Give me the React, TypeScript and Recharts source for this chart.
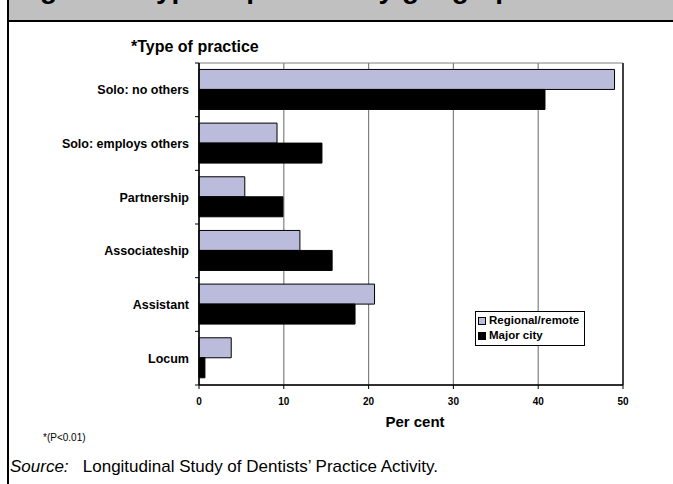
import React from 'react';
import { BarChart, Bar, XAxis, YAxis, CartesianGrid, ReferenceLine, ReferenceArea, Label } from 'recharts';

const categories = ['Solo: no others', 'Solo: employs others', 'Partnership', 'Associateship', 'Assistant', 'Locum'];
const regionalRemote = [49.0, 9.2, 5.4, 11.9, 20.7, 3.8];
const majorCity = [40.8, 14.5, 9.9, 15.7, 18.4, 0.7];
const xTicks = [0, 10, 20, 30, 40, 50];

const data = categories.map((name, i) => ({
  name,
  regional: regionalRemote[i],
  city: majorCity[i],
}));

const FONT = '"Liberation Sans", Arial, sans-serif';
const LAVENDER = '#BBBBDC';

const legendItems = [
  { label: 'Regional/remote', color: LAVENDER },
  { label: 'Major city', color: '#000' },
];

const CategoryTick = (props: any) => {
  const { x, y, payload, index, visibleTicksCount } = props;
  const half = payload && payload.offset ? payload.offset : 26.8;
  const axisX = x + 10;
  const isLast = index === visibleTicksCount - 1;
  return (
    <g>
      <line x1={axisX - 4} x2={axisX} y1={y - half} y2={y - half} stroke="#000" />
      {isLast && <line x1={axisX - 4} x2={axisX} y1={y + half} y2={y + half} stroke="#000" />}
      <text x={x} y={y} dy="0.35em" textAnchor="end" fontFamily={FONT} fontSize={12.5} fontWeight="bold" fill="#000">
        {payload.value}
      </text>
    </g>
  );
};

const LegendBox = () => (
  <div
    style={{
      position: 'absolute',
      left: 475,
      top: 311,
      border: '1px solid #000',
      background: '#fff',
      width: 106,
      height: 32,
      fontFamily: FONT,
      fontWeight: 'bold',
      fontSize: 11.5,
      lineHeight: '15px',
      padding: '1px 0 0 2px',
    }}
  >
    {legendItems.map((item) => (
      <div key={item.label} style={{ display: 'flex', alignItems: 'center', height: 15 }}>
        <span style={{ display: 'inline-block', width: 6, height: 6, background: item.color, border: '1px solid #000', marginRight: 3 }} />
        <span>{item.label}</span>
      </div>
    ))}
  </div>
);

export default function App() {
  return (
    <div style={{ position: 'absolute', left: 0, top: 0, width: 673, height: 484, background: '#fff', overflow: 'hidden' }}>
      {/* header band, title mostly hidden above the top edge */}
      <div style={{ position: 'absolute', left: 9, top: 0, width: 664, height: 20, background: '#C0C0C0', overflow: 'hidden' }}>
        <div style={{ position: 'absolute', left: 6, top: -27, whiteSpace: 'nowrap', fontFamily: FONT, fontWeight: 'bold', fontSize: 28 }}>
          Figure 5: Type of practice by geographic location
        </div>
      </div>
      <div style={{ position: 'absolute', left: 8, top: 20, width: 665, height: 2, background: '#000' }} />
      <div style={{ position: 'absolute', left: 7, top: 0, width: 2, height: 484, background: '#000' }} />

      <div style={{ position: 'absolute', left: 0, top: 0 }}>
        <BarChart
          width={673}
          height={484}
          data={data}
          layout="vertical"
          margin={{ top: 63, right: 50, bottom: 69, left: 9 }}
          barCategoryGap="12%"
          barGap={0}
        >
          <ReferenceArea x1={0} x2={50} fill="none" stroke="#808080" ifOverflow="visible" />
          <CartesianGrid horizontal={false} stroke="#808080" strokeWidth={1.2} />
          <XAxis
            type="number"
            domain={[0, 50]}
            ticks={xTicks}
            height={30}
            axisLine={{ stroke: '#000', strokeWidth: 1.5 }}
            tickLine={{ stroke: '#000' }}
            tickSize={4}
            tickMargin={9}
            tick={{ fontFamily: FONT, fontSize: 10, fontWeight: 'bold', fill: '#000' }}
          >
            <Label value="Per cent" position="bottom" offset={1} dx={4} style={{ fontFamily: FONT, fontSize: 15, fontWeight: 'bold', fill: '#000' }} />
          </XAxis>
          <YAxis
            type="category"
            dataKey="name"
            width={190}
            axisLine={{ stroke: '#000', strokeWidth: 1.5 }}
            tickLine={false}
            tickSize={0}
            tickMargin={10}
            tick={<CategoryTick />}
            interval={0}
          />
          <ReferenceLine x={50} stroke="#404040" strokeWidth={2} />
          <Bar dataKey="regional" name="Regional/remote" fill={LAVENDER} stroke="#000" strokeWidth={1} isAnimationActive={false} />
          <Bar dataKey="city" name="Major city" fill="#000" stroke="#000" strokeWidth={1} isAnimationActive={false} />
        </BarChart>
      </div>

      <LegendBox />
      <div style={{ position: 'absolute', left: 131, top: 38, fontFamily: FONT, fontWeight: 'bold', fontSize: 16, whiteSpace: 'nowrap' }}>
        *Type of practice
      </div>
      <div style={{ position: 'absolute', left: 43, top: 432, fontFamily: FONT, fontSize: 10, whiteSpace: 'nowrap' }}>
        *(P&lt;0.01)
      </div>
      <div style={{ position: 'absolute', left: 10, top: 457, fontFamily: FONT, fontSize: 17, whiteSpace: 'nowrap' }}>
        <i>Source:</i>&nbsp;&nbsp; Longitudinal Study of Dentists’ Practice Activity.
      </div>
    </div>
  );
}
